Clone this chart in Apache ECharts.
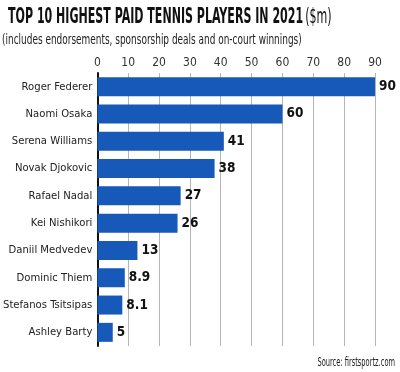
<!DOCTYPE html>
<html><head><meta charset="utf-8">
<script src="https://cdn.jsdelivr.net/npm/echarts@6/dist/echarts.min.js"></script>
<style>html,body{margin:0;padding:0;background:#fff}#c{width:400px;height:372px}</style>
</head><body><div id="c"></div>
<script>
const players = ["Roger Federer","Naomi Osaka","Serena Williams","Novak Djokovic","Rafael Nadal","Kei Nishikori","Daniil Medvedev","Dominic Thiem","Stefanos Tsitsipas","Ashley Barty"];
const earnings = [90,60,41,38,27,26,13,8.9,8.1,5];
const xTicks = [0,10,20,30,40,50,60,70,80,90];
const FONT = "'Liberation Sans Narrow','DejaVu Sans Condensed',sans-serif";
const chart = echarts.init(document.getElementById('c'));
chart.setOption({
  animation:false,
  backgroundColor:'#fff',
  graphic:[
    {type:'text',x:8,y:7,scaleX:0.585,style:{
      text:'{b|TOP 10 HIGHEST PAID TENNIS PLAYERS IN 2021} {r|($m)}',
      rich:{b:{font:"bold 21px "+FONT,fill:'#111'},r:{font:"21px "+FONT,fill:'#111'}},
      verticalAlign:'top'}},
    {type:'text',x:2,y:33,scaleX:0.71,style:{
      text:'(includes endorsements, sponsorship deals and on-court winnings)',
      font:"14px "+FONT,fill:'#222',verticalAlign:'top'}},
    {type:'text',x:395,y:357,scaleX:0.62,style:{
      text:'Source: firstsportz.com',
      font:"12px "+FONT,fill:'#222',align:'right',verticalAlign:'top'}}
  ],
  grid:{left:96,right:25,top:73,bottom:26,containLabel:false},
  xAxis:{
    type:'value',position:'top',min:0,max:90,interval:10,
    axisLine:{show:false},axisTick:{show:false},
    axisLabel:{fontFamily:FONT,fontSize:12,color:'#333',margin:4,
      formatter:v=>xTicks.includes(v)?String(v):''},
    splitLine:{show:true,lineStyle:{color:'#b5b5b5',width:1}}
  },
  yAxis:{
    type:'category',data:players,inverse:true,
    axisLine:{show:true,lineStyle:{color:'#111',width:2}},
    axisTick:{show:false},
    axisLabel:{fontFamily:FONT,fontSize:11.2,color:'#222',margin:5}
  },
  series:[{
    type:'bar',data:earnings,barWidth:19,
    itemStyle:{color:'#1659b8'},
    label:{show:true,position:'right',distance:4,fontFamily:FONT,fontWeight:'bold',fontSize:13.5,color:'#111'}
  }]
});
</script></body></html>
